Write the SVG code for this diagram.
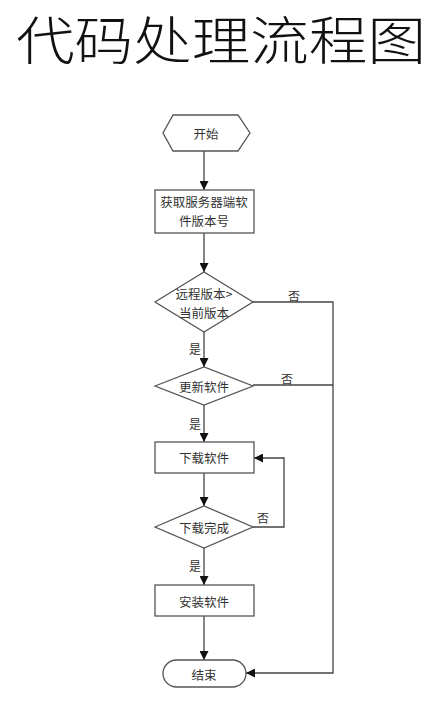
<svg xmlns="http://www.w3.org/2000/svg" width="441" height="706" viewBox="0 0 441 706">
<style>
.title{font-family:"Noto Sans CJK SC","Noto Sans CJK JP",sans-serif;font-size:52px;fill:#111;font-weight:300}
.shape{fill:#fff;stroke:#555;stroke-width:1.3}
.t{font-family:"Noto Sans CJK SC",sans-serif;font-size:12.5px;fill:#333;text-anchor:middle;dominant-baseline:central}
.l{font-family:"Noto Sans CJK SC",sans-serif;font-size:12px;fill:#333;text-anchor:middle;dominant-baseline:central}
.c{fill:none;stroke:#444;stroke-width:1.3}
</style>
<defs>
<marker id="ah" viewBox="0 0 10 10" refX="10" refY="5" markerWidth="9" markerHeight="9" markerUnits="userSpaceOnUse" orient="auto">
<path d="M0,0 L10,5 L0,10 Z" fill="#111"/>
</marker>
</defs>
<rect width="441" height="706" fill="#fff"/>
<text class="title" x="221" y="60" text-anchor="middle" textLength="410" lengthAdjust="spacingAndGlyphs">代码处理流程图</text>
<g id="connectors">
<line class="c" x1="204" y1="151" x2="204" y2="190" marker-end="url(#ah)"/>
<line class="c" x1="204" y1="233" x2="204" y2="272" marker-end="url(#ah)"/>
<line class="c" x1="204" y1="332" x2="204" y2="367" marker-end="url(#ah)"/>
<line class="c" x1="204" y1="405" x2="204" y2="442" marker-end="url(#ah)"/>
<line class="c" x1="204" y1="473" x2="204" y2="506" marker-end="url(#ah)"/>
<line class="c" x1="204" y1="548" x2="204" y2="585" marker-end="url(#ah)"/>
<line class="c" x1="204" y1="616" x2="204" y2="660" marker-end="url(#ah)"/>
<polyline class="c" points="253,302 333,302 333,673 246,673" marker-end="url(#ah)"/>
<line class="c" x1="253" y1="385" x2="333" y2="385"/>
<polyline class="c" points="253,527 284,527 284,458 254,458" marker-end="url(#ah)"/>
<text class="l" x="294" y="295">否</text>
<text class="l" x="287" y="378">否</text>
<text class="l" x="263" y="517">否</text>
<text class="l" x="195" y="348">是</text>
<text class="l" x="195" y="423">是</text>
<text class="l" x="195" y="565">是</text>
</g>
<g id="start">
<polygon class="shape" points="163,133 173,115 238,115 250,133 238,151 173,151"/>
<text class="t" x="206" y="133">开始</text>
</g>
<g id="getVersion">
<rect class="shape" x="155" y="190" width="99" height="43"/>
<text class="t" x="204" y="201">获取服务器端软</text>
<text class="t" x="204" y="220">件版本号</text>
</g>
<g id="compare">
<polygon class="shape" points="155,302 204,272 253,302 204,332"/>
<text class="t" x="204" y="293">远程版本&gt;</text>
<text class="t" x="204" y="312">当前版本</text>
</g>
<g id="update">
<polygon class="shape" points="155,386 204,367 253,386 204,405"/>
<text class="t" x="204" y="386">更新软件</text>
</g>
<g id="download">
<rect class="shape" x="155" y="442" width="99" height="31"/>
<text class="t" x="204" y="457">下载软件</text>
</g>
<g id="downloaded">
<polygon class="shape" points="155,527 204,506 253,527 204,548"/>
<text class="t" x="204" y="527">下载完成</text>
</g>
<g id="install">
<rect class="shape" x="155" y="585" width="99" height="31"/>
<text class="t" x="204" y="601">安装软件</text>
</g>
<g id="end">
<rect class="shape" x="163" y="660" width="83" height="27" rx="13.5" ry="13.5"/>
<text class="t" x="204" y="674">结束</text>
</g>
</svg>
